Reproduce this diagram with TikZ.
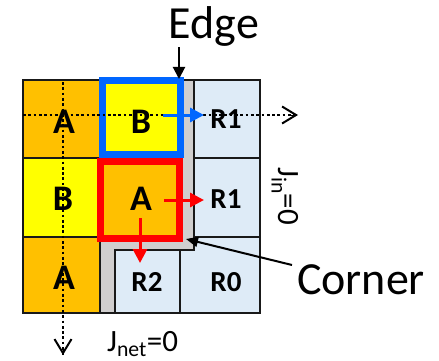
\documentclass[tikz,border=0pt]{standalone}
\usepackage{fontspec}
\setmainfont{Carlito}
\usetikzlibrary{arrows.meta}
\definecolor{cOrange}{HTML}{FFC000}
\definecolor{cYellow}{HTML}{FFFF00}
\definecolor{cLight}{HTML}{DEEBF7}
\definecolor{cGray}{HTML}{D0CECE}
\definecolor{cEdge}{HTML}{0066FF}
\definecolor{cRed}{HTML}{FF0000}
\begin{document}
\begin{tikzpicture}[x=1pt,y=-1pt,
  cell/.style={draw=black!90,line width=1.6pt},
  big/.style={font=\fontsize{36}{36}\selectfont\bfseries,inner sep=0pt},
  rlbl/.style={font=\fontsize{29}{29}\selectfont\bfseries,inner sep=0pt},
  txt/.style={font=\fontsize{46}{46}\selectfont,inner sep=0pt},
  jtxt/.style={font=\fontsize{31}{31}\selectfont,inner sep=0pt},
  dotline/.style={line width=2.7pt,dash pattern=on 2.7pt off 2.6pt},
  chev/.style={-{Straight Barb[length=14pt,width=17pt,line width=2pt]}},
  flowarrow/.style={line width=3pt,-{Triangle[length=14pt,width=14pt]}},
  pointer/.style={line width=2pt,-{Triangle[length=12pt,width=12pt]}}]
\useasboundingbox (0,0) rectangle (439,361);
% background cells
\draw[cell,fill=cGray] (100,80) rectangle (194,313);
\draw[cell,fill=cLight] (194,80) rectangle (260,158);
\draw[cell,fill=cLight] (194,158) rectangle (260,237);
\draw[cell,fill=cLight] (180,313) -- (180,250) -- (194,250) -- (194,237) -- (260,237) -- (260,313) -- cycle;
\draw[cell,fill=cLight] (115,250) rectangle (180,313);
\draw[cell,fill=cOrange] (23,80) rectangle (100,158);
\draw[cell,fill=cYellow] (100,80) rectangle (180,158);
\draw[cell,fill=cYellow] (23,158) rectangle (100,237);
\draw[cell,fill=cOrange] (100,158) rectangle (180,237);
\draw[cell,fill=cOrange] (23,237) rectangle (100,313);
% highlighted boxes
\draw[cEdge,line width=7pt] (102.5,80.5) rectangle (180.5,154.5);
\draw[cRed,line width=7pt] (100.5,161.5) rectangle (179.5,238.5);
% dotted axes
\coordinate (hs) at (23,115);
\coordinate (he) at (298,115);
\coordinate (vs) at (63,82);
\coordinate (ve) at (63,355);
\draw[dotline] (hs) -- (he);
\draw[dotline] (vs) -- (ve);
\coordinate (hc) at (290,115);
\coordinate (vc) at (63,347);
\draw[chev] (hc) -- (he);
\draw[chev] (vc) -- (ve);
% labels
\node[big] (tA1) at (64,122) {A};
\node[big] (tB1) at (141,122) {B};
\node[rlbl] (tR1a) at (226,119) {R1};
\node[big] (tB2) at (63,199) {B};
\node[big] (tA2) at (141,199) {A};
\node[rlbl] (tR1b) at (226,199) {R1};
\node[big] (tA3) at (64,278) {A};
\node[rlbl] (tR2) at (147,282) {R2};
\node[rlbl] (tR0) at (226,282) {R0};
\node[txt,anchor=base] (tEdge) at (214,39) {Edge};
\node[txt,anchor=base] (tCorner) at (361,294) {Corner};
\node[jtxt,anchor=base west] (tJnet) at (107,351) {J\textsubscript{net}=0};
\node[jtxt,anchor=base west,rotate=-90] (tJin) at (278,167) {J\textsubscript{in}=0};
% arrows
\coordinate (edgeTip) at (179,79);
\draw[pointer] (tEdge.south -| edgeTip) -- (edgeTip);
\coordinate (bS) at (163,115);
\coordinate (bE) at (204,115);
\draw[flowarrow,cEdge] (bS) -- (bE);
\coordinate (rS) at (164,200);
\coordinate (rE) at (204,200);
\draw[flowarrow,cRed] (rS) -- (rE);
\coordinate (dS) at (140,218);
\coordinate (dE) at (140,263);
\draw[flowarrow,cRed] (dS) -- (dE);
\coordinate (cS) at (292,265);
\coordinate (cTip) at (186,239);
\draw[line width=2pt,-{Triangle[length=12pt,width=10pt]}] (cS) -- (cTip);
\end{tikzpicture}
\end{document}
